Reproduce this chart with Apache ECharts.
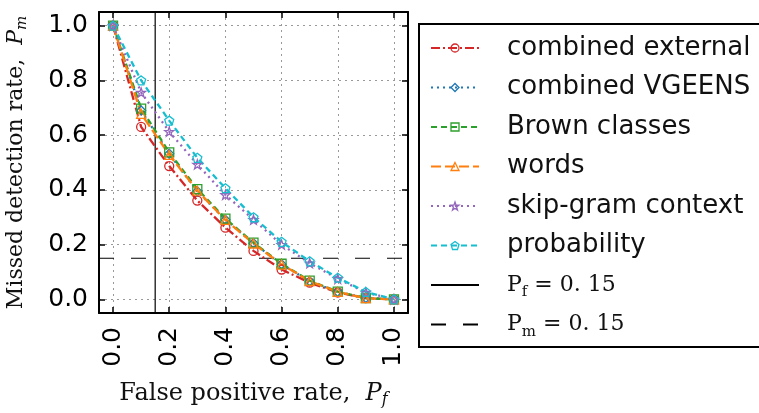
<!DOCTYPE html>
<html>
<head>
<meta charset="utf-8">
<script src="https://cdn.jsdelivr.net/npm/echarts@6/dist/echarts.min.js"></script>
<style>
  html, body { margin: 0; padding: 0; background: #fff; }
  #chart { width: 759px; height: 413px; }
</style>
</head>
<body>
<div id="chart"></div>
<script>
// false positive rate (x)
var fpr = [0.0, 0.1, 0.2, 0.3, 0.4, 0.5, 0.6, 0.7, 0.8, 0.9, 1.0];
// missed detection rate (y) per feature set
var combinedExternal = [1.0, 0.63, 0.487, 0.361, 0.262, 0.177, 0.109, 0.061, 0.025, 0.004, 0.0];
var combinedVgeens   = [1.0, 0.69, 0.532, 0.395, 0.291, 0.205, 0.128, 0.066, 0.027, 0.005, 0.0];
var brownClasses     = [1.0, 0.697, 0.537, 0.403, 0.295, 0.207, 0.130, 0.068, 0.028, 0.004, 0.0];
var words            = [1.0, 0.678, 0.528, 0.397, 0.290, 0.204, 0.127, 0.067, 0.027, 0.004, 0.0];
var skipGram         = [1.0, 0.756, 0.613, 0.493, 0.382, 0.291, 0.200, 0.132, 0.075, 0.025, 0.0];
var probability      = [1.0, 0.80, 0.653, 0.517, 0.406, 0.300, 0.210, 0.139, 0.079, 0.027, 0.0];
// thresholds
var pfThreshold = 0.15;
var pmThreshold = 0.15;
// tick labels
var tickValues = [0.0, 0.2, 0.4, 0.6, 0.8, 1.0];

var myChart = echarts.init(document.getElementById('chart'));

var starPath = 'path://M0,-10 L2.35,-3.24 L9.51,-3.09 L3.8,1.24 L5.88,8.09 L0,4 L-5.88,8.09 L-3.8,1.24 L-9.51,-3.09 L-2.35,-3.24 Z';
var pentagonPath = 'path://M0,-10 L9.51,-3.09 L5.88,8.09 L-5.88,8.09 L-9.51,-3.09 Z';
var hollow = 'rgba(255,255,255,0)';

function pairs(ys) {
    var out = [];
    for (var i = 0; i < fpr.length; i++) {
        out.push([fpr[i], ys[i]]);
    }
    return out;
}

function curve(name, ys, color, symbol, dash) {
    return {
        name: name,
        type: 'line',
        data: pairs(ys),
        symbol: symbol,
        symbolSize: 9,
        showAllSymbol: true,
        color: color,
        itemStyle: { color: hollow, borderColor: color, borderWidth: 1.3 },
        lineStyle: { color: color, width: 2.3, type: dash },
        emphasis: { disabled: true },
        z: 3
    };
}

var series = [
    curve('combined external', combinedExternal, '#d62728', 'circle', [9, 3, 2, 3]),
    curve('combined VGEENS', combinedVgeens, '#1f77b4', 'diamond', [2, 4]),
    curve('Brown classes', brownClasses, '#2ca02c', 'rect', [6, 4]),
    curve('words', words, '#ff7f0e', 'triangle', [10, 4]),
    curve('skip-gram context', skipGram, '#9467bd', starPath, [2, 4]),
    curve('probability', probability, '#17becf', pentagonPath, [6, 4]),
    {
        name: 'Pf = 0.15',
        type: 'line',
        data: [[pfThreshold, -0.05], [pfThreshold, 1.05]],
        symbol: 'none',
        color: '#000',
        lineStyle: { color: '#000', width: 1.2, type: 'solid' },
        emphasis: { disabled: true },
        z: 2
    },
    {
        name: 'Pm = 0.15',
        type: 'line',
        data: [[-0.05, pmThreshold], [1.05, pmThreshold]],
        symbol: 'none',
        color: '#000',
        lineStyle: { color: '#000', width: 1.2, type: [15, 17] },
        emphasis: { disabled: true },
        z: 2
    }
];

var legendNames = [];
for (var k = 0; k < series.length; k++) {
    var entry = { name: series[k].name };
    if (series[k].symbol === 'none') {
        entry.itemStyle = { opacity: 0 };
    } else {
        entry.itemStyle = { color: hollow, borderColor: series[k].color, borderWidth: 1.3 };
    }
    legendNames.push(entry);
}

var spine = { show: true, onZero: false, lineStyle: { color: '#000', width: 2 } };
var ticks = { show: true, inside: true, length: 6, customValues: tickValues, lineStyle: { color: '#000', width: 1.5 } };
var grid = { show: true, lineStyle: { color: '#999', width: 1, type: [2, 4] } };
var tickFont = { fontFamily: 'DejaVu Sans', fontSize: 25, color: '#000' };

var option = {
    backgroundColor: '#fff',
    animation: false,
    grid: { left: 99, right: 351, top: 12, bottom: 95 },
    // legend frame runs past the right edge of the picture, as in the original
    graphic: [{
        type: 'rect',
        shape: { x: 419, y: 24, width: 380, height: 323 },
        style: { fill: 'none', stroke: '#000', lineWidth: 2 },
        silent: true,
        z: 0
    }],
    legend: {
        orient: 'vertical',
        left: 419,
        top: 24,
        padding: [9, 0, 8, 11],
        itemWidth: 48,
        itemHeight: 10,
        itemGap: 9.5,
        selectedMode: false,
        data: legendNames,
        formatter: function (name) {
            if (name === 'Pf = 0.15') return '{r|P}{s|f}{r| = 0. 15}';
            if (name === 'Pm = 0.15') return '{r|P}{s|m}{r| = 0. 15}';
            return name;
        },
        textStyle: {
            fontFamily: 'DejaVu Sans',
            fontSize: 26,
            lineHeight: 30,
            color: '#111',
            padding: [0, 0, 0, 23],
            rich: {
                r: { fontFamily: 'DejaVu Serif', fontSize: 22, lineHeight: 30, color: '#111' },
                s: { fontFamily: 'DejaVu Serif', fontSize: 15, lineHeight: 30, verticalAlign: 'bottom', padding: [10, 0, 0, 0], color: '#111' }
            }
        }
    },
    xAxis: [{
        type: 'value',
        min: -0.05,
        max: 1.05,
        position: 'bottom',
        axisLine: spine,
        axisTick: ticks,
        splitLine: grid,
        axisLabel: {
            customValues: tickValues,
            rotate: 90,
            margin: 14,
            formatter: function (v) { return v.toFixed(1); },
            fontFamily: tickFont.fontFamily, fontSize: tickFont.fontSize, color: tickFont.color
        },
        name: '{a|False positive rate,  }{i|P}{s|f}',
        nameLocation: 'middle',
        nameGap: 67,
        nameTextStyle: {
            rich: {
                a: { fontFamily: 'DejaVu Serif', fontSize: 24, color: '#111' },
                i: { fontFamily: 'DejaVu Serif', fontSize: 24, fontStyle: 'italic', color: '#111' },
                s: { fontFamily: 'DejaVu Serif', fontSize: 16, fontStyle: 'italic', verticalAlign: 'bottom', padding: [12, 0, 0, 0], color: '#111' }
            }
        }
    }, {
        type: 'value',
        min: -0.05,
        max: 1.05,
        position: 'top',
        axisLine: spine,
        axisTick: ticks,
        splitLine: { show: false },
        axisLabel: { show: false, customValues: tickValues }
    }],
    yAxis: [{
        type: 'value',
        min: -0.05,
        max: 1.05,
        position: 'left',
        axisLine: spine,
        axisTick: ticks,
        splitLine: grid,
        axisLabel: {
            customValues: tickValues,
            margin: 11,
            formatter: function (v) { return v.toFixed(1); },
            fontFamily: tickFont.fontFamily, fontSize: tickFont.fontSize, color: tickFont.color
        },
        name: '{a|Missed detection rate,  }{i|P}{s|m}',
        nameLocation: 'middle',
        nameGap: 69,
        nameRotate: 90,
        nameTextStyle: {
            rich: {
                a: { fontFamily: 'DejaVu Serif', fontSize: 22, color: '#111' },
                i: { fontFamily: 'DejaVu Serif', fontSize: 22, fontStyle: 'italic', color: '#111' },
                s: { fontFamily: 'DejaVu Serif', fontSize: 15, fontStyle: 'italic', verticalAlign: 'bottom', padding: [12, 0, 0, 0], color: '#111' }
            }
        }
    }, {
        type: 'value',
        min: -0.05,
        max: 1.05,
        position: 'right',
        axisLine: spine,
        axisTick: ticks,
        splitLine: { show: false },
        axisLabel: { show: false, customValues: tickValues }
    }],
    series: series
};

myChart.setOption(option);
</script>
</body>
</html>
